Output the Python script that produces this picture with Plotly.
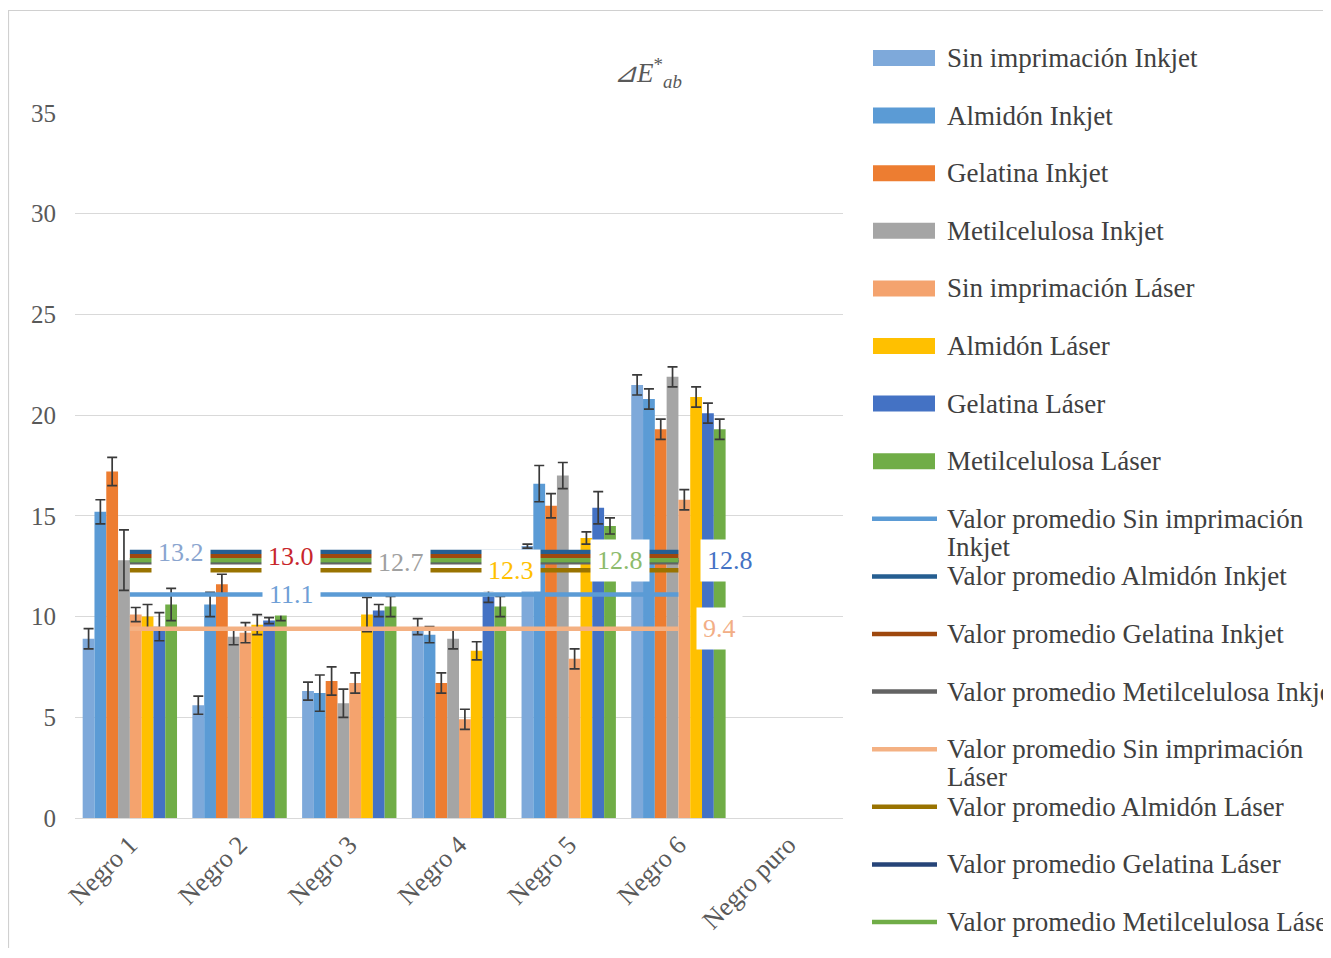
import plotly.graph_objects as go

categories = ["Negro 1", "Negro 2", "Negro 3", "Negro 4", "Negro 5", "Negro 6", "Negro puro"]

bar_names = ["Sin imprimación Inkjet", "Almidón Inkjet", "Gelatina Inkjet", "Metilcelulosa Inkjet",
             "Sin imprimación Láser", "Almidón Láser", "Gelatina Láser", "Metilcelulosa Láser"]

sin_imp_inkjet = [8.9, 5.6, 6.3, 9.5, 13.5, 21.5, None]
sin_imp_inkjet_err = [0.5, 0.45, 0.45, 0.4, 0.1, 0.5, None]
almidon_inkjet = [15.2, 10.6, 6.2, 9.1, 16.6, 20.8, None]
almidon_inkjet_err = [0.6, 0.6, 0.9, 0.4, 0.9, 0.5, None]
gelatina_inkjet = [17.2, 11.6, 6.8, 6.7, 15.5, 19.3, None]
gelatina_inkjet_err = [0.7, 0.5, 0.7, 0.5, 0.6, 0.5, None]
metil_inkjet = [12.8, 9.0, 5.7, 8.9, 17.0, 21.9, None]
metil_inkjet_err = [1.5, 0.4, 0.7, 0.5, 0.65, 0.5, None]
sin_imp_laser = [10.1, 9.2, 6.7, 4.9, 7.9, 15.8, None]
sin_imp_laser_err = [0.35, 0.5, 0.5, 0.5, 0.5, 0.5, None]
almidon_laser = [10.0, 9.6, 10.1, 8.3, 13.9, 20.9, None]
almidon_laser_err = [0.6, 0.5, 0.85, 0.45, 0.3, 0.5, None]
gelatina_laser = [9.5, 9.8, 10.3, 11.0, 15.4, 20.1, None]
gelatina_laser_err = [0.7, 0.15, 0.3, 0.3, 0.8, 0.5, None]
metil_laser = [10.6, 10.1, 10.5, 10.5, 14.5, 19.3, None]
metil_laser_err = [0.8, 0.3, 0.5, 0.5, 0.4, 0.5, None]

bar_colors = ["#7EA9DA", "#5B9BD5", "#ED7D31", "#A5A5A5", "#F4A36E", "#FFC000", "#4472C4", "#70AD47"]

avg_names = ["Valor promedio Sin imprimación Inkjet", "Valor promedio Almidón Inkjet",
             "Valor promedio Gelatina Inkjet", "Valor promedio Metilcelulosa Inkjet",
             "Valor promedio Sin imprimación Láser", "Valor promedio Almidón Láser",
             "Valor promedio Gelatina Láser", "Valor promedio Metilcelulosa Láser"]
avg_values = [11.1, 13.2, 13.0, 12.7, 9.4, 12.3, 12.8, 12.8]
avg_colors = ["#5B9BD5", "#255E91", "#9E480E", "#636363", "#F4B183", "#997300", "#264478", "#70AD47"]
avg_label_colors = ["#6F9FD6", "#8AA5CF", "#C8262B", "#A0A0A0", "#F2AE86", "#FFC000", "#4472C4", "#8DBB6C"]
avg_label_pos = [1.47, 0.47, 1.47, 2.47, 5.37, 3.47, 5.47, 4.47]

title_text = "<i>⊿E</i><sup>*</sup><sub><i>ab</i></sub>"

bar_values = [sin_imp_inkjet, almidon_inkjet, gelatina_inkjet, metil_inkjet,
              sin_imp_laser, almidon_laser, gelatina_laser, metil_laser]
bar_errors = [sin_imp_inkjet_err, almidon_inkjet_err, gelatina_inkjet_err, metil_inkjet_err,
              sin_imp_laser_err, almidon_laser_err, gelatina_laser_err, metil_laser_err]

FONT = "Liberation Serif"
TXT = "#404040"
LEG_SIZE = 27

fig = go.Figure()
for name, vals, errs, col in zip(bar_names, bar_values, bar_errors, bar_colors):
    fig.add_trace(go.Bar(
        name=name, x=categories, y=vals, marker=dict(color=col, line=dict(width=0)),
        error_y=dict(type="data", array=errs, visible=True, color="#3A3A3A", thickness=1.7, width=5),
        showlegend=False))

for name, val, col in zip(avg_names, avg_values, avg_colors):
    fig.add_trace(go.Scatter(
        name=name, x=[categories[0], categories[5]], y=[val, val], mode="lines",
        line=dict(color=col, width=4.5), showlegend=False, hoverinfo="skip"))

annotations = []
for val, col, pos in zip(avg_values, avg_label_colors, avg_label_pos):
    annotations.append(dict(x=pos, y=val, xref="x", yref="y", text=f"{val:.1f}", showarrow=False,
                            font=dict(family=FONT, size=26, color=col), bgcolor="white", borderpad=6))

W, H = 1315, 940
ML, MR, MT, MB = 67, 480, 105, 130
PW, PH = W - ML - MR, H - MT - MB

def px(page_x):
    return (page_x - 8 - ML) / PW

def py(page_y):
    return (MT + PH - (page_y - 8)) / PH

shapes = []
shapes.append(dict(type="rect", xref="paper", yref="paper", x0=px(8.5), x1=px(1400), y0=py(956), y1=py(10.5),
                   line=dict(color="#D0D0D0", width=1.2), fillcolor="rgba(0,0,0,0)", layer="below"))

row_y = [58 + i * 57.6 for i in range(16)]
for i, (name, col) in enumerate(zip(bar_names, bar_colors)):
    y = row_y[i]
    shapes.append(dict(type="rect", xref="paper", yref="paper", x0=px(873), x1=px(935), y0=py(y + 8), y1=py(y - 8),
                       fillcolor=col, line=dict(width=0)))
    annotations.append(dict(x=px(945), y=py(y), xref="paper", yref="paper", xanchor="left", yanchor="middle",
                            text=name, showarrow=False, font=dict(family=FONT, size=LEG_SIZE, color=TXT)))

for j, (name, col) in enumerate(zip(avg_names, avg_colors)):
    y = row_y[8 + j]
    shapes.append(dict(type="line", xref="paper", yref="paper", x0=px(872), x1=px(937), y0=py(y), y1=py(y),
                       line=dict(color=col, width=4.5)))
    if name.endswith("imprimación Inkjet") or name.endswith("imprimación Láser"):
        first, second = name.rsplit(" ", 1)
        annotations.append(dict(x=px(945), y=py(y), xref="paper", yref="paper", xanchor="left", yanchor="middle",
                                text=first, showarrow=False, font=dict(family=FONT, size=LEG_SIZE, color=TXT)))
        annotations.append(dict(x=px(945), y=py(y + 28), xref="paper", yref="paper", xanchor="left",
                                yanchor="middle", text=second, showarrow=False,
                                font=dict(family=FONT, size=LEG_SIZE, color=TXT)))
    else:
        annotations.append(dict(x=px(945), y=py(y), xref="paper", yref="paper", xanchor="left", yanchor="middle",
                                text=name, showarrow=False, font=dict(family=FONT, size=LEG_SIZE, color=TXT)))

annotations.append(dict(x=px(612), y=py(52), xref="paper", yref="paper", xanchor="left", text=title_text,
                        showarrow=False, font=dict(family=FONT, size=27, color="#595959")))

fig.update_layout(
    width=W, height=H, margin=dict(l=ML, r=MR, t=MT, b=MB),
    paper_bgcolor="white", plot_bgcolor="white",
    barmode="group", bargap=0.14, bargroupgap=0,
    showlegend=False,
    font=dict(family=FONT, color="#595959"),
    xaxis=dict(type="category", categoryorder="array", categoryarray=categories, range=[-0.5, 6.5],
               tickangle=-45, tickfont=dict(family=FONT, size=26, color="#595959"),
               showgrid=False, showline=True, linecolor="#D9D9D9", linewidth=1.3, ticks=""),
    yaxis=dict(range=[0, 35], dtick=5, showgrid=True, gridcolor="#D9D9D9", gridwidth=1.3,
               zeroline=True, zerolinecolor="#D9D9D9", zerolinewidth=1.3,
               tickfont=dict(family=FONT, size=25, color="#595959"), ticklabelstandoff=18),
    annotations=annotations, shapes=shapes,
)

fig.write_html("out.html")
